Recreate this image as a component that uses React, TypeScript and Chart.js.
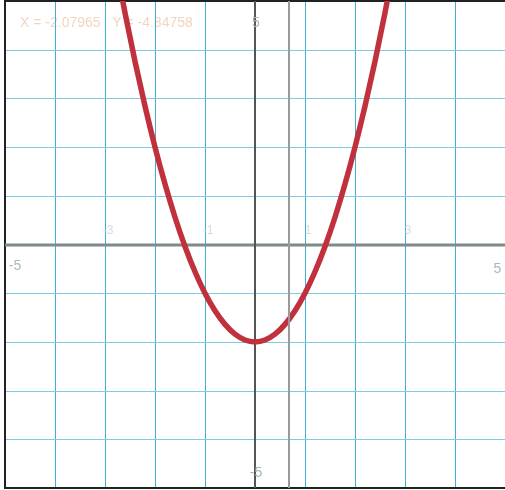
import React, { useEffect, useRef } from "react";
import { Chart, registerables } from "chart.js";

Chart.register(...registerables);

// Curve points
const curveX = [-2.75, -2.6, -2.4, -2.2, -2.0, -1.8, -1.6, -1.4, -1.2, -1.0, -0.8, -0.6, -0.4, -0.2, 0, 0.2, 0.4, 0.6, 0.8, 1.0, 1.2, 1.4, 1.6, 1.8, 2.0, 2.2, 2.4, 2.6, 2.75];
const curveY = [5.56, 4.76, 3.76, 2.84, 2.0, 1.24, 0.56, -0.04, -0.56, -1.0, -1.36, -1.64, -1.84, -1.96, -2.0, -1.96, -1.84, -1.64, -1.36, -1.0, -0.56, -0.04, 0.56, 1.24, 2.0, 2.84, 3.76, 4.76, 5.56];
const cursorX = [0.68, 0.68];
const cursorY = [-5.2, 5.2];
const traceText = "X = -2.07965   Y = -4.84758";
const edgeLabels = [
  { x: -4.8, y: -0.45, t: "-5" },
  { x: 4.85, y: -0.5, t: "5" },
  { x: 0.02, y: 4.55, t: "5" },
  { x: 0.02, y: -4.7, t: "-5" },
];
const innerLabels = [
  { x: -3, t: "-3" },
  { x: -1, t: "-1" },
  { x: 1, t: "1" },
  { x: 3, t: "3" },
];

const labelsPlugin = {
  id: "labelsPlugin",
  afterDatasetsDraw(chart: any) {
    const { ctx, scales } = chart;
    const xs = scales.x;
    const ys = scales.y;
    ctx.save();
    ctx.textAlign = "center";
    ctx.textBaseline = "middle";
    ctx.font = "14px 'Liberation Sans', sans-serif";
    ctx.fillStyle = "#a9b8bb";
    for (const l of edgeLabels) {
      ctx.fillText(l.t, xs.getPixelForValue(l.x), ys.getPixelForValue(l.y));
    }
    ctx.font = "12px 'Liberation Sans', sans-serif";
    ctx.fillStyle = "#cfdde0";
    for (const l of innerLabels) {
      ctx.fillText(l.t, xs.getPixelForValue(l.x) + 3, ys.getPixelForValue(0.28));
    }
    ctx.restore();
  },
};

const textPlugin = {
  id: "textPlugin",
  beforeDatasetsDraw(chart: any) {
    const { ctx, scales } = chart;
    ctx.save();
    ctx.textAlign = "left";
    ctx.textBaseline = "middle";
    ctx.font = "14px 'Liberation Sans', sans-serif";
    ctx.fillStyle = "#f1d6c2";
    ctx.fillText(traceText, scales.x.getPixelForValue(-4.7), scales.y.getPixelForValue(4.55));
    ctx.restore();
  },
};

const gridPlugin = {
  id: "gridPlugin",
  beforeDatasetsDraw(chart: any) {
    const { ctx, scales, chartArea } = chart;
    const xs = scales.x;
    const ys = scales.y;
    const crisp = (v: number) => Math.round(v) + 0.5;
    ctx.save();
    ctx.lineWidth = 1;
    for (const t of xs.ticks) {
      if (t.value === 0 || t.value === -5 || t.value === 5) continue;
      const px = crisp(xs.getPixelForValue(t.value));
      ctx.strokeStyle = "#3fb0d4";
      ctx.beginPath();
      ctx.moveTo(px, chartArea.top);
      ctx.lineTo(px, chartArea.bottom);
      ctx.stroke();
    }
    for (const t of ys.ticks) {
      if (t.value === 0 || t.value === -5 || t.value === 5) continue;
      const py = crisp(ys.getPixelForValue(t.value));
      ctx.strokeStyle = "#7ccde2";
      ctx.beginPath();
      ctx.moveTo(chartArea.left, py);
      ctx.lineTo(chartArea.right, py);
      ctx.stroke();
    }
    // frame: left, top, bottom
    ctx.strokeStyle = "#222";
    ctx.lineWidth = 2;
    ctx.beginPath();
    ctx.moveTo(chartArea.right, chartArea.top);
    ctx.lineTo(chartArea.left, chartArea.top);
    ctx.lineTo(chartArea.left, chartArea.bottom);
    ctx.lineTo(chartArea.right, chartArea.bottom);
    ctx.stroke();
    // axes
    const x0 = xs.getPixelForValue(0);
    const y0 = ys.getPixelForValue(0);
    ctx.strokeStyle = "#7d8b89";
    ctx.lineWidth = 3;
    ctx.beginPath();
    ctx.moveTo(chartArea.left, Math.round(y0));
    ctx.lineTo(chartArea.right, Math.round(y0));
    ctx.stroke();
    ctx.strokeStyle = "#555";
    ctx.lineWidth = 2;
    ctx.beginPath();
    ctx.moveTo(Math.round(x0), chartArea.top);
    ctx.lineTo(Math.round(x0), chartArea.bottom);
    ctx.stroke();
    ctx.restore();
  },
};

export default function App() {
  const ref = useRef<HTMLCanvasElement | null>(null);
  useEffect(() => {
    document.body.style.margin = "0";
    const canvas = ref.current!;
    const chart = new Chart(canvas, {
      type: "scatter",
      data: {
        datasets: [
          {
            data: cursorX.map((x, i) => ({ x, y: cursorY[i] })),
            showLine: true,
            borderColor: "#9a9a9a",
            borderWidth: 2,
            pointRadius: 0,
          },
          {
            data: curveX.map((x, i) => ({ x, y: curveY[i] })),
            showLine: true,
            borderColor: "#c1303d",
            borderWidth: 5.5,
            pointRadius: 0,
            cubicInterpolationMode: "monotone",
          },
        ],
      },
      options: {
        animation: false,
        responsive: false,
        maintainAspectRatio: false,
        layout: { padding: { left: 5, top: 1, right: 0, bottom: 2 } },
        plugins: { legend: { display: false }, tooltip: { enabled: false } },
        scales: {
          x: {
            type: "linear",
            min: -5,
            max: 5,
            ticks: { display: false, stepSize: 1 },
            border: { display: false },
            grid: { display: false, drawTicks: false },
          },
          y: {
            type: "linear",
            min: -5,
            max: 5,
            ticks: { display: false, stepSize: 1 },
            border: { display: false },
            grid: { display: false, drawTicks: false },
          },
        },
      },
      plugins: [textPlugin, gridPlugin, labelsPlugin],
    } as any);
    return () => chart.destroy();
  }, []);
  return <canvas ref={ref} width={505} height={490} style={{ display: "block" }} />;
}
